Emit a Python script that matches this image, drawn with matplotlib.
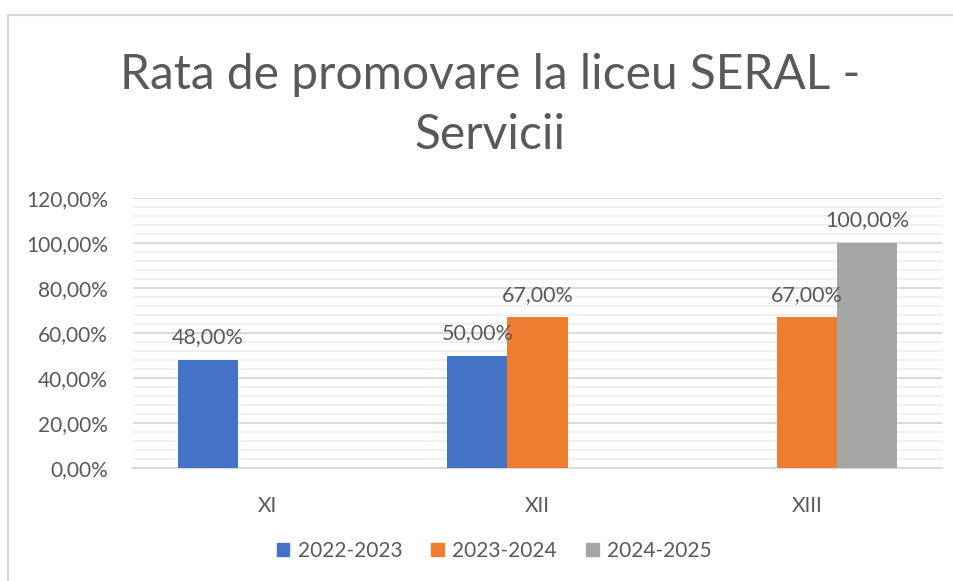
import numpy as np
import matplotlib.pyplot as plt
from matplotlib.patches import Rectangle, Patch
import matplotlib.ticker as ticker

# ── Date ─────────────────────────────────────────────────────────────────────
clase = ["XI", "XII", "XIII"]
ani = ["2022-2023", "2023-2024", "2024-2025"]
rata_2022 = [0.48, 0.50, np.nan]
rata_2023 = [np.nan, 0.67, 0.67]
rata_2024 = [np.nan, np.nan, 1.00]
culori = ["#4472C4", "#ED7D31", "#A5A5A5"]

plt.rcParams["font.family"] = ["Lato", "DejaVu Sans"]
TEXT = "#595959"

fig = plt.figure(figsize=(9.54, 5.81), dpi=100)
ax = fig.add_axes([133 / 954, 1 - 468 / 581, (942 - 133) / 954, (468 - 198) / 581])

# chenar al graficului (ca in Excel)
fig.patches.append(Rectangle((8 / 954, -0.1), 1.2, 1 - 15 / 581 + 0.1,
                             transform=fig.transFigure, fill=False,
                             edgecolor="#d9d9d9", linewidth=1.5))

x = np.arange(len(clase))
w = 0.223
for i, (vals, col) in enumerate(zip([rata_2022, rata_2023, rata_2024], culori)):
    pos = x + (i - 1) * w
    for xp, v in zip(pos, vals):
        if np.isnan(v):
            continue
        ax.bar(xp, v, width=w, color=col, zorder=3)
        ax.annotate(f"{v * 100:.2f}%".replace(".", ","), (xp, v),
                    xytext=(0, 9), textcoords="offset points",
                    ha="center", va="bottom", fontsize=15.5, color=TEXT, zorder=4)

ax.set_xlim(-0.5, 2.5)
ax.set_ylim(0, 1.2)
ax.yaxis.set_major_locator(ticker.MultipleLocator(0.2))
ax.yaxis.set_minor_locator(ticker.MultipleLocator(0.04))
ax.yaxis.set_major_formatter(ticker.FuncFormatter(
    lambda v, p: f"{v * 100:.2f}%".replace(".", ",")))
ax.grid(axis="y", which="major", color="#d9d9d9", linewidth=1.4, zorder=0)
ax.grid(axis="y", which="minor", color="#f0f0f0", linewidth=1.4, zorder=0)
ax.set_xticks(x)
ax.set_xticklabels(clase)
ax.tick_params(axis="both", which="both", length=0, labelsize=15, labelcolor=TEXT)
ax.tick_params(axis="y", pad=18)
ax.tick_params(axis="x", pad=20)
for s in ["top", "right", "left"]:
    ax.spines[s].set_visible(False)
ax.spines["bottom"].set_color("#d9d9d9")
ax.spines["bottom"].set_linewidth(1.4)

fig.text(0.514, 1 - 75 / 581, "Rata de promovare la liceu SERAL -",
         ha="center", va="center", fontsize=34.5, color=TEXT)
fig.text(0.514, 1 - 135 / 581, "Servicii",
         ha="center", va="center", fontsize=34.5, color=TEXT)

handles = [Patch(color=c, label=a) for c, a in zip(culori, ani)]
leg = fig.legend(handles=handles, loc="center", bbox_to_anchor=(0.518, 1 - 551 / 581),
                 ncol=3, frameon=False, fontsize=15, handlelength=0.6,
                 handleheight=0.6, handletextpad=0.4, columnspacing=1.4)
for t in leg.get_texts():
    t.set_color(TEXT)

fig.savefig("out.png", dpi=100)
